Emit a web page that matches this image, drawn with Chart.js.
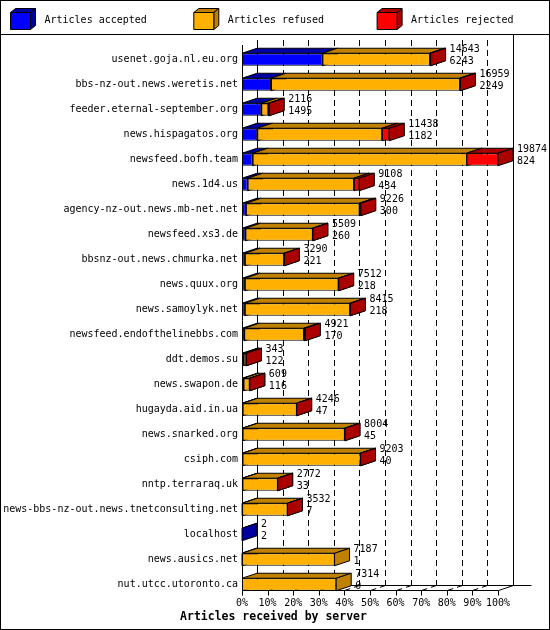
<!DOCTYPE html>
<html><head><meta charset="utf-8">
<script src="https://cdn.jsdelivr.net/npm/chart.js@4.4.1/dist/chart.umd.min.js"></script>
<style>html,body{margin:0;padding:0;background:#fff;}canvas{display:block;}</style>
</head><body>
<canvas id="c" width="550" height="630"></canvas>
<script>
const hosts = [
  'usenet.goja.nl.eu.org',
  'bbs-nz-out.news.weretis.net',
  'feeder.eternal-september.org',
  'news.hispagatos.org',
  'newsfeed.bofh.team',
  'news.1d4.us',
  'agency-nz-out.news.mb-net.net',
  'newsfeed.xs3.de',
  'bbsnz-out.news.chmurka.net',
  'news.quux.org',
  'news.samoylyk.net',
  'newsfeed.endofthelinebbs.com',
  'ddt.demos.su',
  'news.swapon.de',
  'hugayda.aid.in.ua',
  'news.snarked.org',
  'csiph.com',
  'nntp.terraraq.uk',
  'news-bbs-nz-out.news.tnetconsulting.net',
  'localhost',
  'news.ausics.net',
  'nut.utcc.utoronto.ca'
];
const offered  = [14643, 16959, 2116, 11438, 19874, 9108, 9226, 5509, 3290, 7512, 8415, 4921, 343, 609, 4246, 8004, 9203, 2772, 3532, 2, 7187, 7314];
const accepted = [6243, 2249, 1495, 1182, 824, 434, 300, 260, 221, 218, 218, 170, 122, 116, 47, 45, 40, 33, 7, 2, 1, 0];
const refused  = [8340, 14660, 551, 9696, 16620, 8254, 8816, 5219, 3049, 7264, 8172, 4641, 211, 488, 4194, 7919, 9158, 2734, 3520, 0, 7186, 7314];
const rejected = [60, 50, 70, 560, 2430, 420, 110, 30, 20, 30, 25, 110, 10, 5, 5, 40, 5, 5, 5, 0, 0, 0];
const seriesLabels = ['Articles accepted', 'Articles refused', 'Articles rejected'];
const tickLabels = ['0%','10%','20%','30%','40%','50%','60%','70%','80%','90%','100%'];
const axisTitle = 'Articles received by server';
const axisMax = 19874;

const seriesData = [accepted, refused, rejected];
const frontColors = ['#0000FF', '#FFB000', '#FF0000'];
const darkColors = ['#0000A0', '#C08000', '#AA0000'];
const FONT = '"DejaVu Sans Mono", monospace';
const DX = 15, DY = 5;
const SEP_Y = 34.5;

function poly(ctx, pts, fill) {
  ctx.beginPath();
  ctx.moveTo(pts[0][0], pts[0][1]);
  for (let i = 1; i < pts.length; i++) ctx.lineTo(pts[i][0], pts[i][1]);
  ctx.closePath();
  ctx.fillStyle = fill;
  ctx.fill();
  ctx.stroke();
}

const threeD = {
  id: 'threeD',
  beforeDatasetsDraw(chart) {
    const {ctx, chartArea: ca, scales: {x: xs, y: ys}} = chart;
    const px = v => Math.round(xs.getPixelForValue(v)) + 0.5;
    const last = tickLabels.length - 1;
    const lastEl = chart.getDatasetMeta(0).data[hosts.length - 1];
    const floorY = Math.round(lastEl.y + lastEl.height / 2) - 0.5;
    const backY = floorY - DY;
    ctx.save();
    ctx.strokeStyle = '#000';
    ctx.lineWidth = 1;
    tickLabels.forEach((t, k) => {
      const xf = px(axisMax * k / last), xb = xf + DX;
      const solid = (k === 0 || k === last);
      ctx.setLineDash(solid ? [] : [6, 4]);
      ctx.beginPath();
      ctx.moveTo(xb, k === last ? SEP_Y : ca.top - 7);
      ctx.lineTo(xb, backY);
      ctx.stroke();
      ctx.beginPath();
      ctx.moveTo(xf, floorY);
      ctx.lineTo(xb, backY);
      ctx.stroke();
    });
    ctx.setLineDash([]);
    const x0 = px(0), xE = px(axisMax);
    ctx.beginPath();
    ctx.moveTo(x0 + DX, backY); ctx.lineTo(xE + DX + 18, backY);
    ctx.moveTo(x0, ca.top - 2); ctx.lineTo(x0, floorY + 5);
    ctx.stroke();
    // tops and sides of each bar segment
    for (let i = 0; i < hosts.length; i++) {
      for (let d = 0; d < seriesData.length; d++) {
        if (!seriesData[d][i]) continue;
        const el = chart.getDatasetMeta(d).data[i];
        const p = el.getProps(['x', 'y', 'base', 'height'], true);
        const l = Math.min(p.x, p.base), r = Math.max(p.x, p.base);
        const t = p.y - p.height / 2, b = p.y + p.height / 2;
        poly(ctx, [[l, t], [r, t], [r + DX, t - DY], [l + DX, t - DY]], darkColors[d]);
        poly(ctx, [[r, t], [r + DX, t - DY], [r + DX, b - DY], [r, b]], darkColors[d]);
      }
    }
    ctx.restore();
  },
  afterDatasetsDraw(chart) {
    const {ctx, scales: {x: xs}} = chart;
    const px = v => Math.round(xs.getPixelForValue(v)) + 0.5;
    const last = tickLabels.length - 1;
    const lastEl = chart.getDatasetMeta(0).data[hosts.length - 1];
    const floorY = Math.round(lastEl.y + lastEl.height / 2) - 0.5;
    ctx.save();
    ctx.strokeStyle = '#000';
    ctx.lineWidth = 1;
    ctx.beginPath();
    ctx.moveTo(px(0), floorY); ctx.lineTo(px(axisMax), floorY);
    tickLabels.forEach((t, k) => {
      const xf = px(axisMax * k / last);
      ctx.moveTo(xf, floorY); ctx.lineTo(xf, floorY + 5);
    });
    ctx.stroke();
    // value labels
    ctx.fillStyle = '#000';
    ctx.font = '10px ' + FONT;
    ctx.textAlign = 'left';
    ctx.textBaseline = 'middle';
    for (let i = 0; i < hosts.length; i++) {
      const el = chart.getDatasetMeta(seriesData.length - 1).data[i];
      const p = el.getProps(['x', 'y'], true);
      const tx = p.x + DX + 4;
      ctx.fillText(String(offered[i]), tx, p.y - 10);
      ctx.fillText(String(accepted[i]), tx, p.y + 1.5);
    }
    ctx.restore();
  },
  afterDraw(chart) {
    const {ctx, width, height} = chart;
    ctx.save();
    ctx.strokeStyle = '#000';
    ctx.lineWidth = 1;
    // frame and legend separator
    ctx.strokeRect(0.5, 0.5, width - 1, height - 1);
    ctx.beginPath();
    ctx.moveTo(0, SEP_Y); ctx.lineTo(width, SEP_Y);
    ctx.stroke();
    // legend
    seriesLabels.forEach((lab, d) => {
      const lx = 10.5 + d * 183.3, ty = 12.5, w = 20, h = 17, dx = 5, dy = 4;
      poly(ctx, [[lx, ty], [lx + w, ty], [lx + w + dx, ty - dy], [lx + dx, ty - dy]], darkColors[d]);
      poly(ctx, [[lx + w, ty], [lx + w + dx, ty - dy], [lx + w + dx, ty + h - dy], [lx + w, ty + h]], darkColors[d]);
      poly(ctx, [[lx, ty], [lx + w, ty], [lx + w, ty + h], [lx, ty + h]], frontColors[d]);
      ctx.fillStyle = '#000';
      ctx.font = '10px ' + FONT;
      ctx.textAlign = 'left';
      ctx.textBaseline = 'middle';
      ctx.fillText(lab, lx + 34, 20.5);
    });
    // axis title
    ctx.font = 'bold 11.5px ' + FONT;
    ctx.textAlign = 'center';
    ctx.textBaseline = 'middle';
    ctx.fillText(axisTitle, 273.5, 617);
    ctx.restore();
  }
};

new Chart(document.getElementById('c'), {
  type: 'bar',
  data: {
    labels: hosts,
    datasets: seriesLabels.map((label, d) => ({
      label,
      data: seriesData[d],
      backgroundColor: frontColors[d],
      borderColor: '#000',
      borderWidth: 1,
      borderSkipped: false,
      categoryPercentage: 1,
      barPercentage: 0.5
    }))
  },
  options: {
    indexAxis: 'y',
    responsive: false,
    animation: false,
    devicePixelRatio: 1,
    layout: {padding: {top: 47, right: 52, bottom: 0, left: 0}},
    plugins: {legend: {display: false}, tooltip: {enabled: false}},
    scales: {
      x: {
        stacked: true, min: 0, max: axisMax,
        grid: {display: false, drawTicks: false},
        border: {display: false},
        afterBuildTicks: s => { s.ticks = tickLabels.map((_, k) => ({value: axisMax * k / (tickLabels.length - 1)})); },
        ticks: {
          callback: (v, i) => tickLabels[i],
          font: {family: FONT, size: 10}, color: '#000',
          padding: 0, maxRotation: 0, minRotation: 0, autoSkip: false
        },
        afterFit: s => { s.height = 33; }
      },
      y: {
        stacked: true,
        grid: {display: false, drawTicks: false},
        border: {display: false},
        ticks: {font: {family: FONT, size: 10}, color: '#000', padding: 4, autoSkip: false},
        afterFit: s => { s.width = 242; }
      }
    }
  },
  plugins: [threeD]
});
</script>
</body></html>
